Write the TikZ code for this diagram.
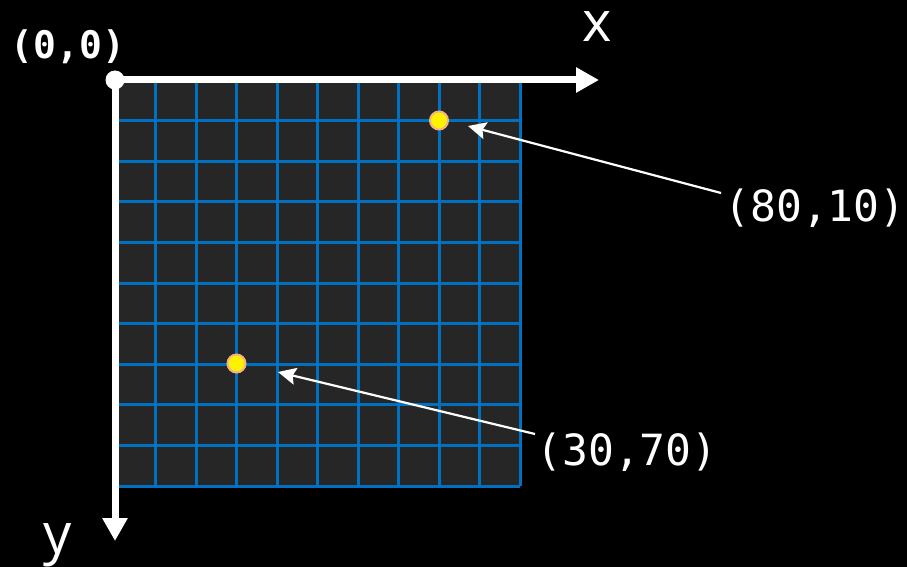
\documentclass[tikz,border=0pt]{standalone}
\usepackage{fontspec}
\setmonofont{DejaVu Sans Mono}
\newfontfamily\axisfont{Open Sans}
\usetikzlibrary{arrows.meta}
\definecolor{gridblue}{HTML}{0070C0}
\definecolor{cellgray}{HTML}{262626}
\definecolor{dotorange}{HTML}{F4B183}
\begin{document}
\begin{tikzpicture}[x=1pt,y=-1pt,
  axisline/.style={white,line width=7pt,-{Triangle[length=23pt,width=24pt]}},
  gridline/.style={gridblue,line width=3pt},
  dotmark/.style={circle,fill=yellow,draw=dotorange,line width=2pt,minimum size=18pt,inner sep=0pt},
  coordlabel/.style={white,font=\ttfamily\fontsize{43}{43}\selectfont,inner sep=0pt},
  pointer/.style={white,line width=2.2pt,-{Stealth[length=18pt,width=17pt,inset=3pt]}}]
\fill[black] (0,0) rectangle (907,567);
\useasboundingbox (0,0) rectangle (907,567);
% grid
\fill[cellgray] (115,80) rectangle (520,486);
\foreach \i in {0,...,10}{
  \draw[gridline] ({115+40.5*\i},80) -- ({115+40.5*\i},486);
  \draw[gridline] (115,{80+40.6*\i}) -- (520,{80+40.6*\i});
}
% axes
\coordinate (o) at (115,80);
\coordinate (xend) at (599,80);
\coordinate (yend) at (115,541);
\draw[axisline] (o) -- (xend);
\draw[axisline] (o) -- (yend);
\node[circle,fill=white,minimum size=19pt,inner sep=0pt] (origin) at (o) {};
\node[white,font=\ttfamily\bfseries\fontsize{38}{38}\selectfont,inner sep=0pt] (l00) at (68,47) {(0,0)};
\node[white,font=\axisfont\fontsize{56}{56}\selectfont,inner sep=0pt,anchor=base] (lx) at (597,42) {x};
\node[white,font=\axisfont\fontsize{56}{56}\selectfont,inner sep=0pt,anchor=base] (ly) at (58,553) {y};
% points
\node[dotmark] (p1) at (439,120.5) {};
\node[dotmark] (p2) at (236.5,363.5) {};
\node[coordlabel] (l1) at (815,208) {(80,10)};
\node[coordlabel] (l2) at (627,452) {(30,70)};
\coordinate (s1) at (721,193);
\coordinate (e1) at (468,126);
\coordinate (s2) at (535,434);
\coordinate (e2) at (278,372);
\draw[pointer] (s1) -- (e1);
\draw[pointer] (s2) -- (e2);
\end{tikzpicture}
\end{document}
